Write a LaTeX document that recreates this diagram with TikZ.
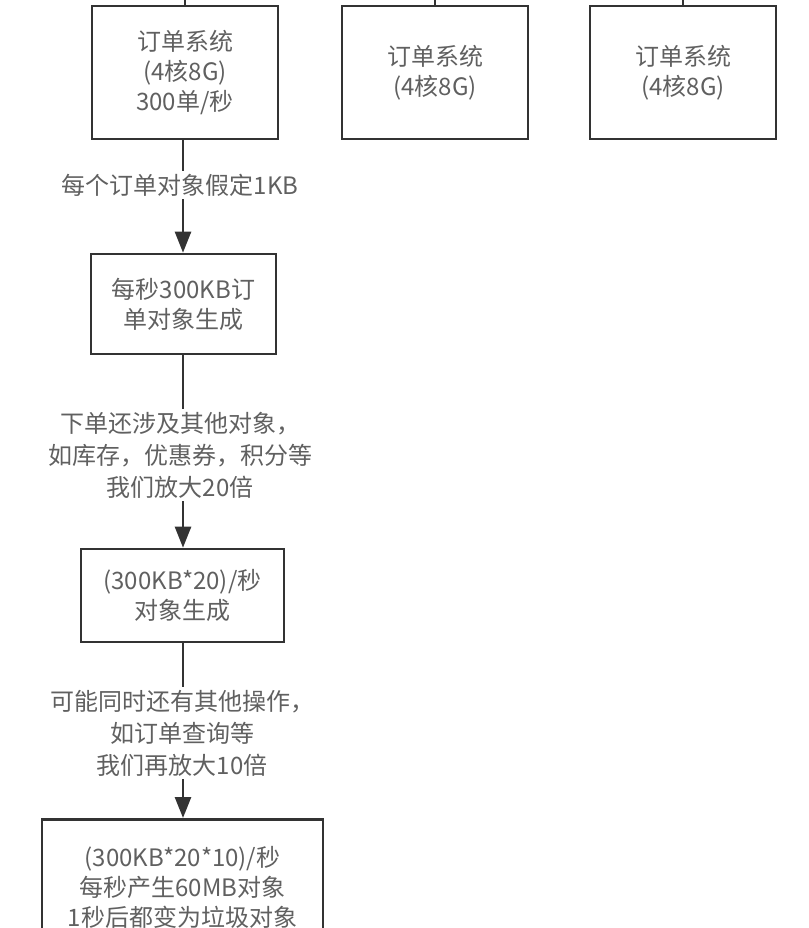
\documentclass[tikz,border=0pt]{standalone}
\usepackage{fontspec}
\setmainfont{Noto Sans CJK SC}
\usetikzlibrary{arrows.meta,positioning}
\definecolor{edgegray}{HTML}{333333}
\definecolor{textgray}{HTML}{606060}

\begin{document}
\begin{tikzpicture}[x=1pt,y=-1pt,font=\fontsize{24}{30}\selectfont,
    sysbox/.style={draw=edgegray,line width=2.6pt,align=center,text=textgray,inner sep=0pt},
    note/.style={align=center,text=textgray,inner sep=3pt,font=\fontsize{24}{32}\selectfont},
    link/.style={draw=edgegray,line width=2.6pt},
    flow/.style={link,-{Triangle[width=16pt,length=21pt]}}]
    \useasboundingbox (0,0) rectangle (808,928);
    \clip (0,0) rectangle (808,928);
    % order service instances
    \node[sysbox,minimum width=186pt,minimum height=133pt] (sysA) at (185,72.5) {订单系统\\(4核8G)\\300单/秒};
    \node[sysbox,minimum width=186pt,minimum height=133pt] (sysB) at (435,72.5) {订单系统\\(4核8G)};
    \node[sysbox,minimum width=186pt,minimum height=133pt] (sysC) at (683,72.5) {订单系统\\(4核8G)};
    \coordinate (topA) at (185,-5);
    \coordinate (topB) at (435,-5);
    \coordinate (topC) at (683,-5);
    \draw[link] (topA) -- (sysA.north);
    \draw[link] (topB) -- (sysB.north);
    \draw[link] (topC) -- (sysC.north);
    % object growth chain
    \node[sysbox,minimum width=185pt,minimum height=100pt] (perSec) at (183.5,304) {每秒300KB订\\单对象生成};
    \node[sysbox,minimum width=203pt,minimum height=93pt] (times20) at (182.5,595.5) {(300KB*20)/秒\\对象生成};
    \node[sysbox,minimum width=281pt,minimum height=136pt,anchor=north] (times200) at (182.5,818) {(300KB*20*10)/秒\\每秒产生60MB对象\\1秒后都变为垃圾对象};
    \node[note] (noteA) at (180,185) {每个订单对象假定1KB};
    \node[note] (noteB) at (180,455) {下单还涉及其他对象，\\如库存，优惠券，积分等\\我们放大20倍};
    \node[note] (noteC) at (182,733) {可能同时还有其他操作，\\如订单查询等\\我们再放大10倍};
    \draw[link] (sysA.south -| 183,0) -- (noteA.north -| 183,0);
    \draw[flow] (noteA.south -| 183,0) -- (perSec.north -| 183,0);
    \draw[link] (perSec.south -| 183,0) -- (noteB.north -| 183,0);
    \draw[flow] (noteB.south -| 183,0) -- (times20.north -| 183,0);
    \draw[link] (times20.south -| 183,0) -- (noteC.north -| 183,0);
    \draw[flow] (noteC.south -| 183,0) -- (times200.north -| 183,0);
\end{tikzpicture}
\end{document}
